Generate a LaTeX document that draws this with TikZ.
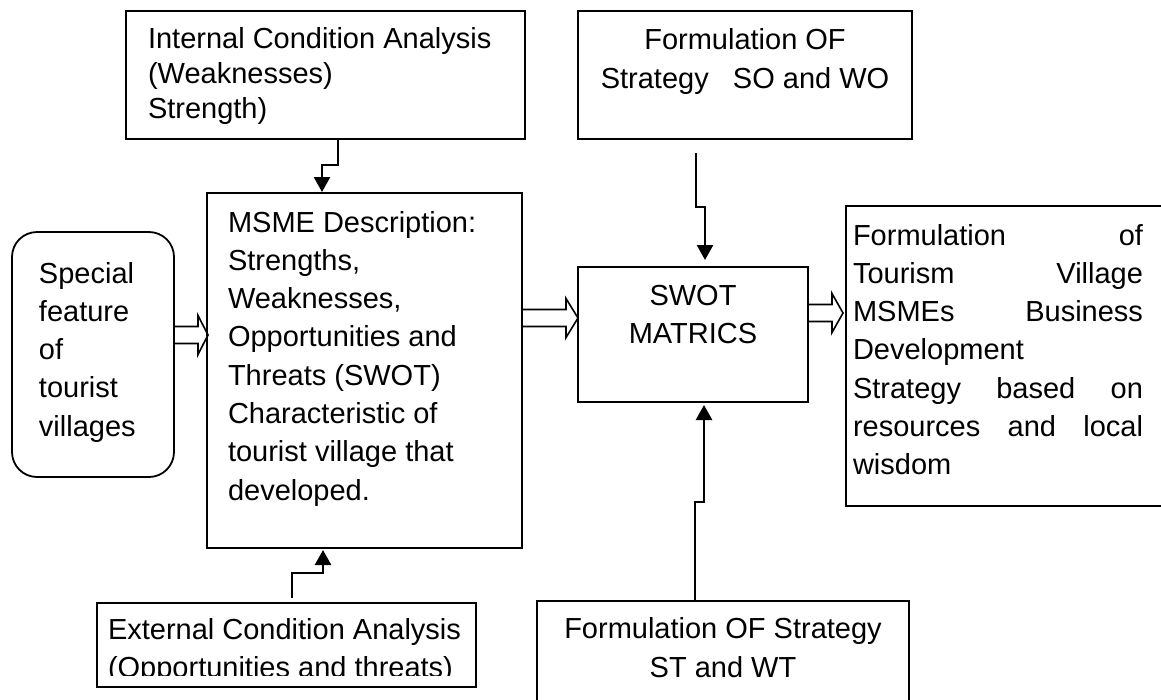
\documentclass[tikz,border=0pt]{standalone}
\usepackage{fontspec}
\setmainfont{Liberation Sans}
\usetikzlibrary{arrows.meta,calc}

% padded, top-aligned text block: left pad, text width, right pad, height, top pad, text
\newcommand{\txtbox}[6]{\hspace*{#1}\parbox[c][#4][t]{#2}{\vspace*{#5}#6}\hspace*{#3}}

% open block arrow between two points at the same height: from, to, head length, gap before target
\newcommand{\hollowarrow}[4]{%
  \draw[hollow] let \p1=(#1), \p2=(#2) in
    (\x1,\y1+8.5pt) -- (\x2-#3-#4,\y1+8.5pt) -- (\x2-#3-#4,\y1+19.5pt) -- (\x2-#4,\y1)
    -- (\x2-#3-#4,\y1-19.5pt) -- (\x2-#3-#4,\y1-8.5pt) -- (\x1,\y1-8.5pt);}

\tikzset{
  box/.style={draw, line width=1.8pt, inner sep=0pt, outer sep=0pt, anchor=north west,
              font=\fontsize{29}{38.3}\selectfont},
  conn/.style={line width=2.5pt, -{Triangle[width=16pt,length=15pt]}},
  hollow/.style={line width=1.6pt, line join=miter}
}

\begin{document}
\begin{tikzpicture}[x=1pt, y=-1pt]
\useasboundingbox (0,0) rectangle (1161,699);
\fill[white] (0,0) rectangle (1161,699);

% boxes
\node[box] (int) at (126,11) {\txtbox{22pt}{370pt}{7pt}{128pt}{12.5pt}{\fontsize{29}{35}\selectfont\strut Internal Condition Analysis\\(Weaknesses)\\Strength)}};

\node[box] (so) at (578,11) {\txtbox{10pt}{314pt}{10pt}{128pt}{10.7pt}{\fontsize{29}{39}\selectfont\centering\strut Formulation OF\\Strategy~~~SO and WO}};

\node[box, rounded corners=25pt] (sp) at (12,232) {\txtbox{27pt}{130pt}{5pt}{245pt}{24.2pt}{\strut Special\\feature\\of\\tourist\\villages}};

\node[box] (msme) at (207,193) {\txtbox{21pt}{285pt}{9pt}{355pt}{12.2pt}{\strut MSME Description:\\Strengths,\\Weaknesses,\\Opportunities and\\Threats (SWOT)\\Characteristic of\\tourist village that\\developed.}};

\node[box] (swot) at (578,267) {\txtbox{0pt}{230pt}{0pt}{135pt}{11.2pt}{\centering\strut SWOT\\MATRICS}};

\node[box] (tour) at (846,206) {\txtbox{7pt}{290pt}{32pt}{300pt}{12.2pt}{\strut Formulation\hfill of\\Tourism\hfill Village\\MSMEs\hfill Business\\Development\\Strategy\hfill based\hfill on\\resources\hfill and\hfill local\\wisdom}};

\node[box] (ext) at (97,603) {\txtbox{11pt}{365pt}{3pt}{84pt}{9.2pt}{\strut External Condition Analysis\\(Opportunities and threats)}};
% the text box cuts its overflowing second line
\fill[white] ($(ext.south west)+(1,-1)$) rectangle ($(ext.south east)+(-1,-11)$);

\node[box] (st) at (537,601) {\txtbox{10pt}{352pt}{10pt}{119pt}{9.7pt}{\fontsize{29}{39}\selectfont\centering\strut Formulation OF Strategy\\ST and WT}};

% stepped connectors
\coordinate (sotail) at ($(so.south -| 696,0)+(0,14)$);
\coordinate (exttail) at ($(ext.north -| 292,0)+(0,-5)$);

\draw[conn, shorten >=1pt] (int.south -| 338,0) |- (322,165) -- (msme.north -| 322,0);
\draw[conn, shorten >=7pt] (sotail) |- (705,207) -- (swot.north -| 705,0);
\draw[conn, shorten >=3pt] (st.north -| 695,0) |- (704,502) -- (swot.south -| 704,0);
\draw[conn, shorten >=2pt] (exttail) |- (323,573) -- (msme.south -| 323,0);

% block arrows
\hollowarrow{sp.east |- 0,335}{msme.west |- 0,335}{10pt}{-1pt}
\hollowarrow{msme.east |- 0,318}{swot.west |- 0,318}{12pt}{0pt}
\hollowarrow{swot.east |- 0,313}{tour.west |- 0,313}{11pt}{3pt}
\end{tikzpicture}
\end{document}
